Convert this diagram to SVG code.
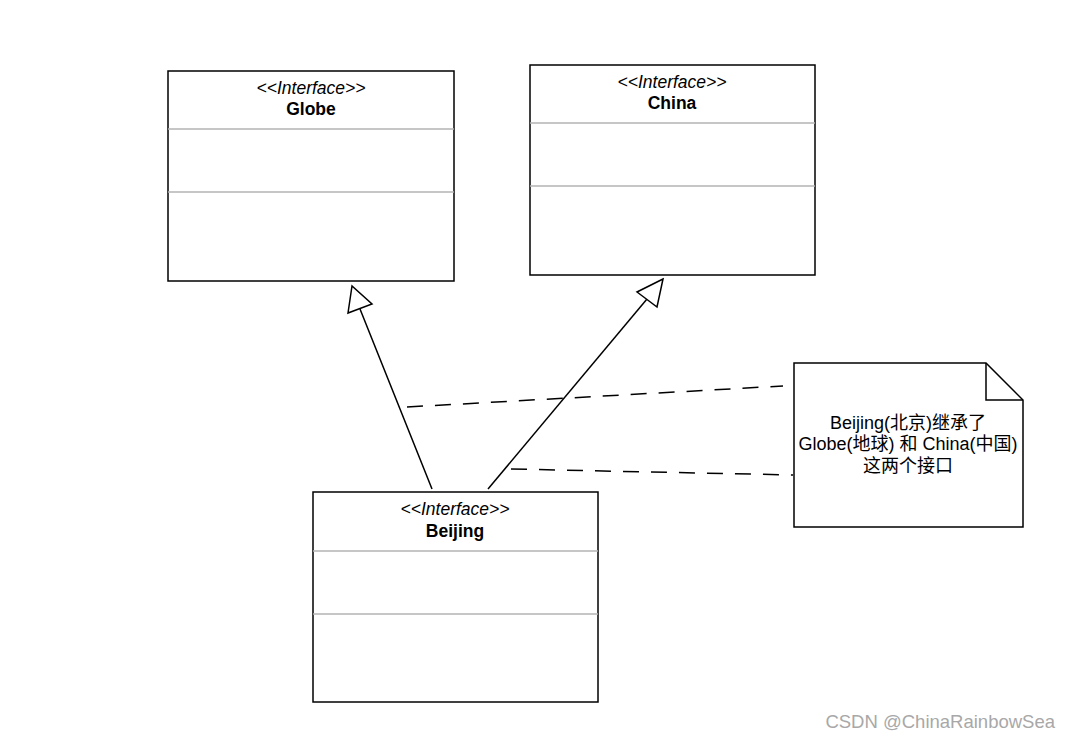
<svg xmlns="http://www.w3.org/2000/svg" width="1069" height="740" viewBox="0 0 1069 740">
<style>
.box{fill:#fff;stroke:#000;stroke-width:1.5}
.div{stroke:#b3b3b3;stroke-width:1.5}
.st{font-family:"Liberation Sans",Arial,sans-serif;font-size:17.5px;font-style:italic;text-anchor:middle;fill:#000}
.nm{font-family:"Liberation Sans",Arial,sans-serif;font-size:17.5px;font-weight:bold;text-anchor:middle;fill:#000}
.note{font-family:"Liberation Sans","Noto Sans CJK SC",sans-serif;font-size:18px;text-anchor:middle;fill:#000}
.edge{stroke:#000;stroke-width:1.5;fill:none}
.dash{stroke:#000;stroke-width:1.5;fill:none;stroke-dasharray:16 12}
.head{fill:#fff;stroke:#000;stroke-width:1.5}
</style>
<rect width="1069" height="740" fill="#fff"/>
<g id="connectors">
<line class="edge" x1="432" y1="489" x2="360" y2="309"/>
<polygon class="head" points="352,286 348,313 372,304"/>
<line class="edge" x1="488" y1="489" x2="647" y2="299"/>
<polygon class="head" points="663,279 637,292 657,307"/>
<line class="dash" x1="407" y1="407" x2="783" y2="386"/>
<line class="dash" x1="511" y1="469" x2="793" y2="475"/>
</g>
<g id="globe">
<rect class="box" x="168" y="71" width="286" height="210"/>
<line class="div" x1="168" y1="129" x2="454" y2="129"/>
<line class="div" x1="168" y1="192" x2="454" y2="192"/>
<text class="st" x="311" y="94">&lt;&lt;Interface&gt;&gt;</text>
<text class="nm" x="311" y="115">Globe</text>
</g>
<g id="china">
<rect class="box" x="530" y="65" width="285" height="210"/>
<line class="div" x1="530" y1="123" x2="815" y2="123"/>
<line class="div" x1="530" y1="186" x2="815" y2="186"/>
<text class="st" x="672" y="88">&lt;&lt;Interface&gt;&gt;</text>
<text class="nm" x="672" y="109">China</text>
</g>
<g id="beijing">
<rect class="box" x="313" y="492" width="285" height="210"/>
<line class="div" x1="313" y1="551" x2="598" y2="551"/>
<line class="div" x1="313" y1="614" x2="598" y2="614"/>
<text class="st" x="455" y="515">&lt;&lt;Interface&gt;&gt;</text>
<text class="nm" x="455" y="537">Beijing</text>
</g>
<g id="note">
<path class="box" d="M794,363 H986 L1023,400 V527 H794 Z"/>
<path class="edge" d="M986,363 V400 H1023"/>
<text class="note" x="908" y="429">Beijing(北京)继承了</text>
<text class="note" x="908" y="450">Globe(地球) 和 China(中国)</text>
<text class="note" x="908" y="472">这两个接口</text>
</g>
<text x="1055" y="728" text-anchor="end" font-family="'Liberation Sans',Arial,sans-serif" font-size="18.5" fill="#a8a8a8">CSDN @ChinaRainbowSea</text>
</svg>
